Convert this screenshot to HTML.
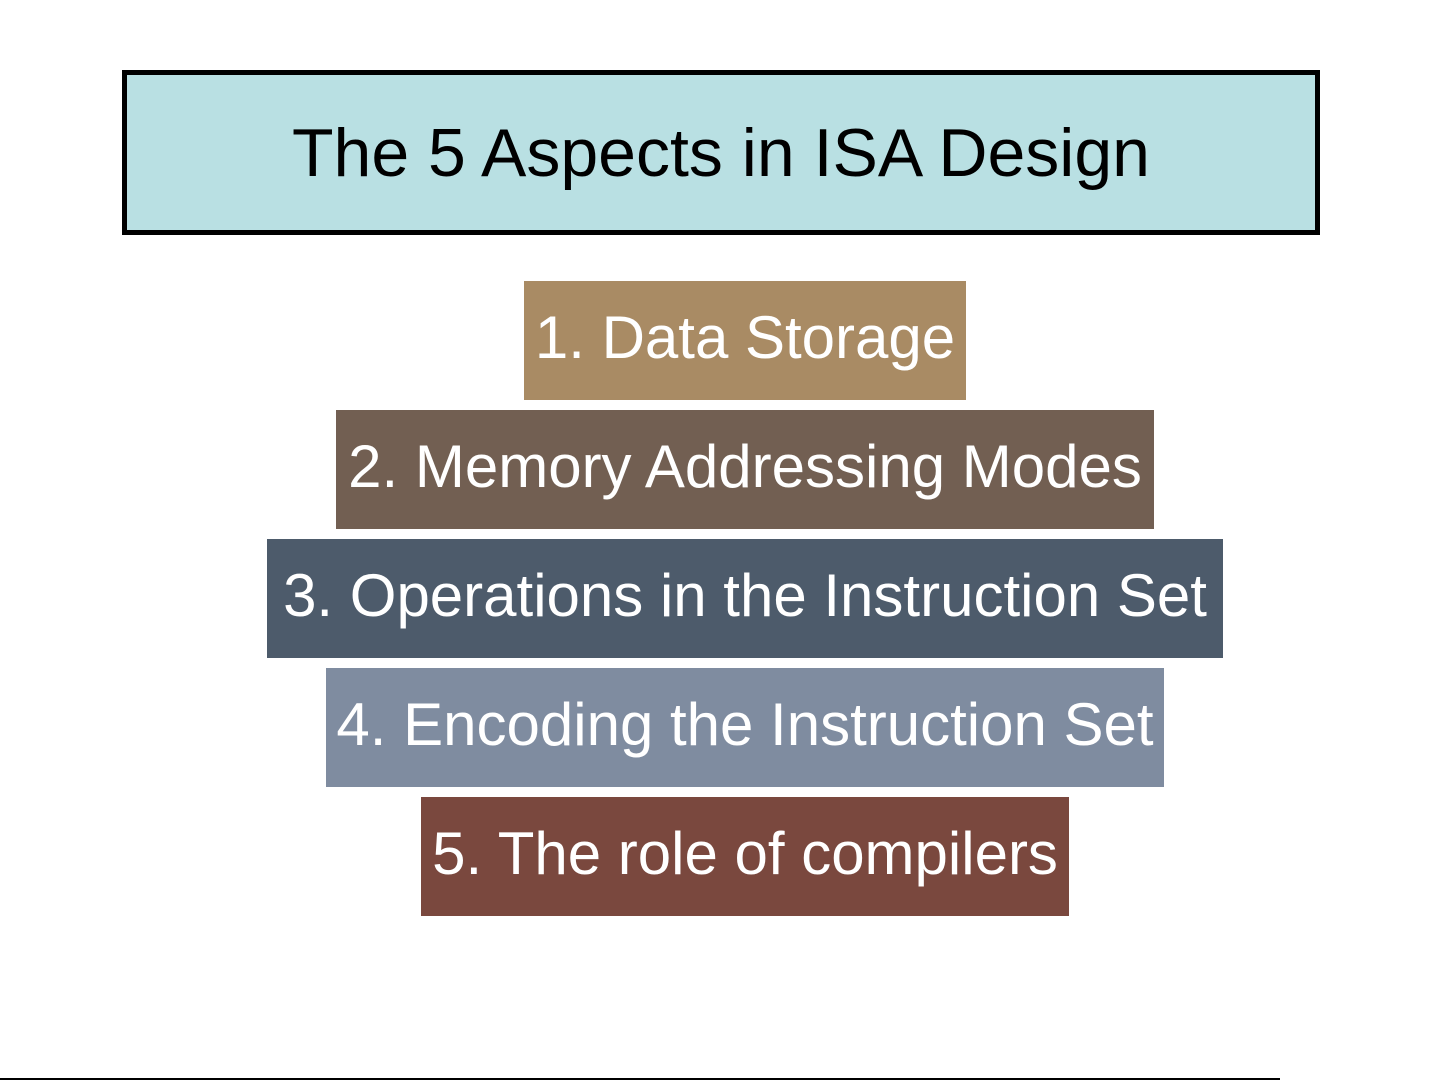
<!DOCTYPE html>
<html><head><style>
body{margin:0;width:1441px;height:1081px;background:#fff;position:relative;overflow:hidden;font-family:"Liberation Sans",sans-serif}
.t{position:absolute;left:122px;top:70px;width:1188px;height:155px;border:5px solid #000;background:#b9e0e3;display:flex;align-items:center;justify-content:center;font-size:68px;color:#000}
.b{position:absolute;height:119px;box-sizing:border-box;padding-bottom:6px;display:flex;align-items:center;justify-content:center;color:#fff;font-size:60px;white-space:nowrap}
.l{position:absolute;left:0;top:1078px;width:1280px;height:2px;background:#000}
</style></head><body>
<div class="t">The 5 Aspects in ISA Design</div>
<div class="b" style="left:524px;top:281px;width:442px;background:#a98b64">1. Data Storage</div>
<div class="b" style="left:336px;top:410px;width:818px;background:#725f52">2. Memory Addressing Modes</div>
<div class="b" style="left:267px;top:539px;width:956px;background:#4d5b6b">3. Operations in the Instruction Set</div>
<div class="b" style="left:326px;top:668px;width:838px;background:#7f8ca0">4. Encoding the Instruction Set</div>
<div class="b" style="left:421px;top:797px;width:648px;background:#7a483e">5. The role of compilers</div>
<div class="l"></div>
</body></html>
